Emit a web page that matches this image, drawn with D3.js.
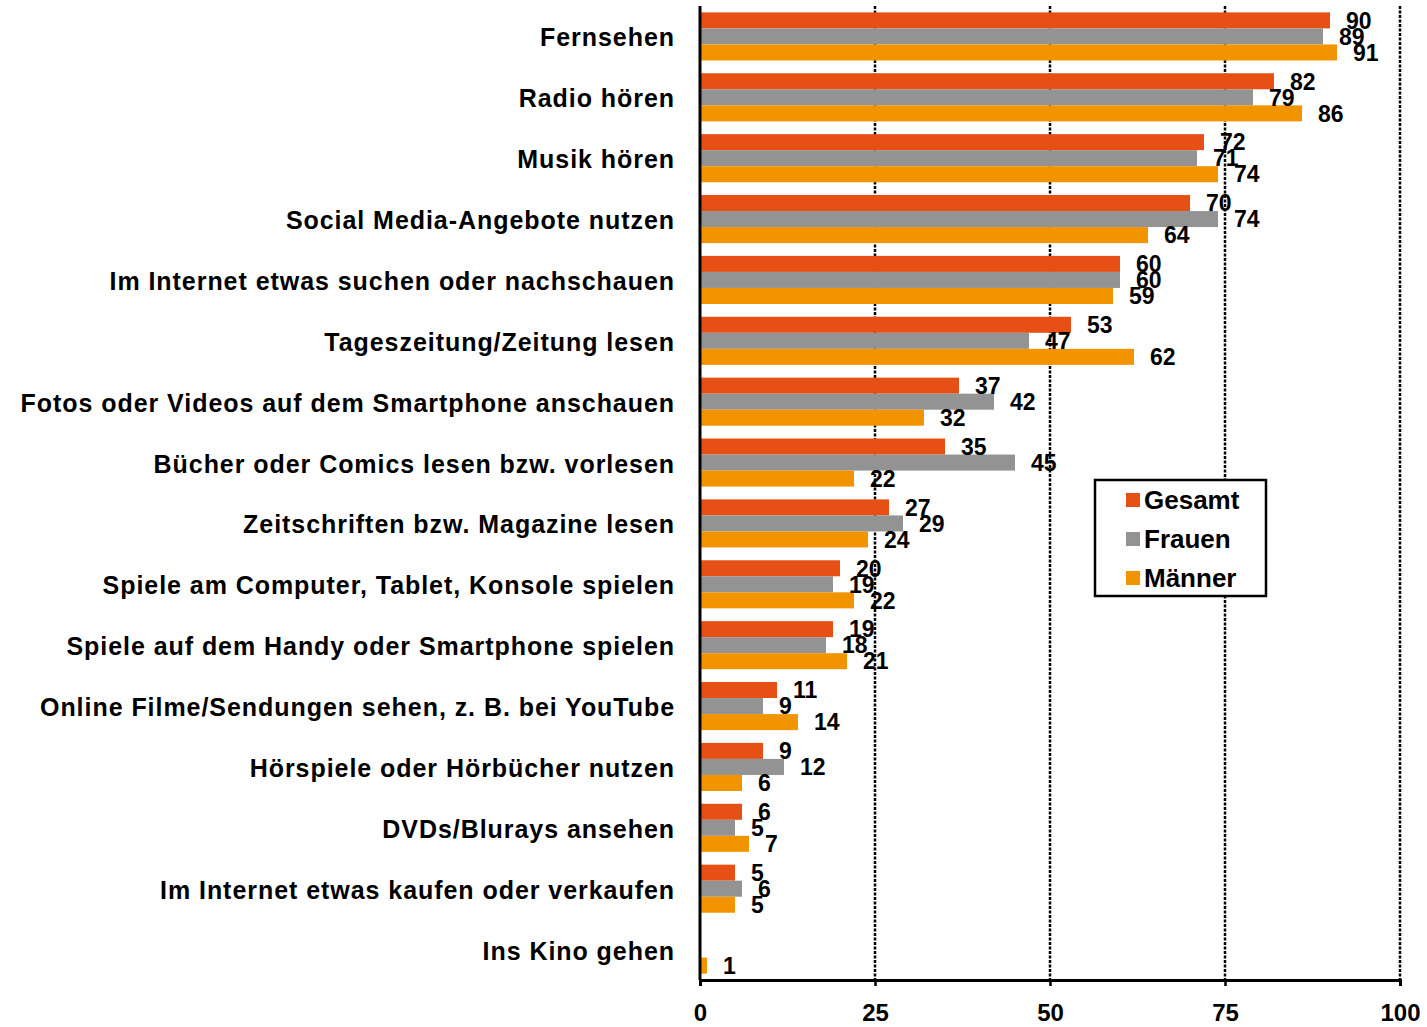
<!DOCTYPE html>
<html>
<head>
<meta charset="utf-8">
<script src="https://cdn.jsdelivr.net/npm/d3@7"></script>
<style>
  body { margin: 0; background: #fff; }
  svg text { font-family: "Liberation Sans", Arial, sans-serif; font-weight: bold; fill: #000; }
</style>
</head>
<body>
<svg width="1427" height="1027"></svg>
<script>
// Data
var categories = [
  "Fernsehen",
  "Radio hören",
  "Musik hören",
  "Social Media-Angebote nutzen",
  "Im Internet etwas suchen oder nachschauen",
  "Tageszeitung/Zeitung lesen",
  "Fotos oder Videos auf dem Smartphone anschauen",
  "Bücher oder Comics lesen bzw. vorlesen",
  "Zeitschriften bzw. Magazine lesen",
  "Spiele am Computer, Tablet, Konsole spielen",
  "Spiele auf dem Handy oder Smartphone spielen",
  "Online Filme/Sendungen sehen, z. B. bei YouTube",
  "Hörspiele oder Hörbücher nutzen",
  "DVDs/Blurays ansehen",
  "Im Internet etwas kaufen oder verkaufen",
  "Ins Kino gehen"
];
var gesamt = [90, 82, 72, 70, 60, 53, 37, 35, 27, 20, 19, 11, 9, 6, 5, null];
var frauen = [89, 79, 71, 74, 60, 47, 42, 45, 29, 19, 18, 9, 12, 5, 6, null];
var maenner = [91, 86, 74, 64, 59, 62, 32, 22, 24, 22, 21, 14, 6, 7, 5, 1];
var seriesNames = ["Gesamt", "Frauen", "Männer"];
var xTicks = [0, 25, 50, 75, 100];

var colors = ["#E65015", "#939393", "#F29400"];
var seriesValues = [gesamt, frauen, maenner];

// The svg
var svg = d3.select("svg");
var plotLeft = 700, plotRight = 1400, plotTop = 6, plotBottom = 980;

var x = d3.scaleLinear().domain([0, 100]).range([plotLeft, plotRight]);
var y = d3.scaleBand().domain(categories).range([plotTop, plotBottom]).paddingInner(0.21).paddingOuter(0.105);
var ySub = d3.scaleBand().domain(seriesNames).range([0, y.bandwidth()]);

// gridlines
svg.append("g")
  .selectAll("line")
  .data(xTicks.slice(1))
  .enter()
  .append("line")
  .attr("x1", function (d) { return x(d); })
  .attr("x2", function (d) { return x(d); })
  .attr("y1", plotTop)
  .attr("y2", plotBottom)
  .attr("stroke", "#000")
  .attr("stroke-width", 2.5)
  .attr("stroke-dasharray", "3,1.5");

// bars
var rows = categories.map(function (c, i) {
  return seriesNames.map(function (s, j) {
    return { cat: c, series: s, value: seriesValues[j][i], color: colors[j] };
  });
});
var flat = [].concat.apply([], rows).filter(function (d) { return d.value != null; });

svg.append("g")
  .selectAll("rect")
  .data(flat)
  .enter()
  .append("rect")
  .attr("x", x(0))
  .attr("y", function (d) { return y(d.cat) + ySub(d.series); })
  .attr("width", function (d) { return x(d.value) - x(0); })
  .attr("height", ySub.bandwidth())
  .attr("fill", function (d) { return d.color; });

// value labels
svg.append("g")
  .selectAll("text")
  .data(flat)
  .enter()
  .append("text")
  .attr("x", function (d) { return x(d.value) + 16; })
  .attr("y", function (d) { return y(d.cat) + ySub(d.series) + ySub.bandwidth() / 2; })
  .attr("dy", "0.36em")
  .style("font-size", "23px")
  .text(function (d) { return d.value; });

// category labels
svg.append("g")
  .selectAll("text")
  .data(categories)
  .enter()
  .append("text")
  .attr("x", 675)
  .attr("y", function (d) { return y(d) + y.bandwidth() / 2 + 1; })
  .attr("dy", "0.36em")
  .attr("text-anchor", "end")
  .style("font-size", "25px")
  .style("letter-spacing", "0.95px")
  .text(function (d) { return d; });

// axes
svg.append("line")
  .attr("x1", plotLeft).attr("x2", plotLeft)
  .attr("y1", plotTop).attr("y2", plotBottom)
  .attr("stroke", "#000").attr("stroke-width", 3);

var xAxis = svg.append("g")
  .attr("transform", "translate(0," + plotBottom + ")")
  .call(d3.axisBottom(x).tickValues(xTicks).tickSize(6).tickPadding(18));
xAxis.select(".domain").attr("stroke-width", 3);
xAxis.selectAll(".tick line").attr("stroke-width", 2.5);
xAxis.selectAll(".tick text")
  .style("font-size", "24px")
  .style("font-family", "Liberation Sans, Arial, sans-serif");

// legend
var legend = svg.append("g").attr("transform", "translate(1095,480)");
legend.append("rect")
  .attr("width", 171).attr("height", 116)
  .attr("fill", "#fff").attr("stroke", "#000").attr("stroke-width", 2.5);
var items = legend.selectAll("g.item")
  .data(seriesNames)
  .enter()
  .append("g")
  .attr("class", "item")
  .attr("transform", function (d, i) { return "translate(0," + (20 + i * 39) + ")"; });
items.append("rect")
  .attr("x", 31).attr("y", -7)
  .attr("width", 14).attr("height", 14)
  .attr("fill", function (d, i) { return colors[i]; });
items.append("text")
  .attr("x", 49).attr("dy", "0.36em")
  .style("font-size", "26px")
  .text(function (d) { return d; });
</script>
</body>
</html>
